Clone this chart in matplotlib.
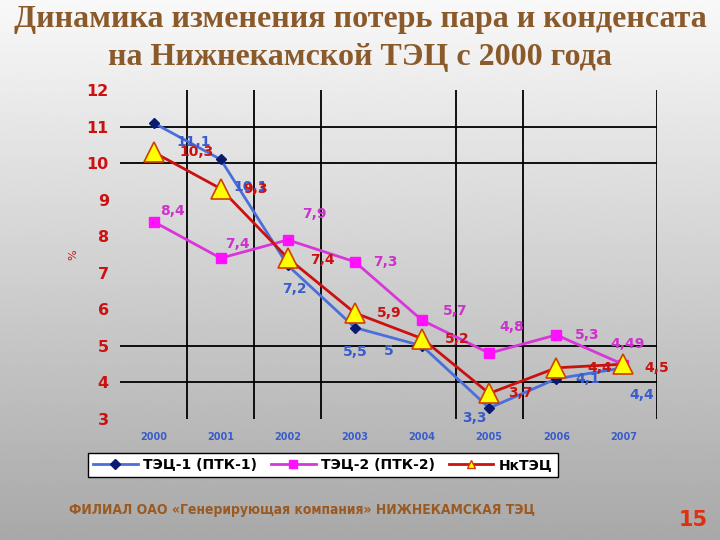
import numpy as np
import matplotlib
matplotlib.use("Agg")
import matplotlib.pyplot as plt
from matplotlib.lines import Line2D

# Data
years = ["2000", "2001", "2002", "2003", "2004", "2005", "2006", "2007"]
tec1 = [11.1, 10.1, 7.2, 5.5, 5.0, 3.3, 4.1, 4.4]
tec2 = [8.4, 7.4, 7.9, 7.3, 5.7, 4.8, 5.3, 4.49]
nktec = [10.3, 9.3, 7.4, 5.9, 5.2, 3.7, 4.4, 4.5]
tec1_labels = ["11,1", "10,1", "7,2", "5,5", "5", "3,3", "4,1", "4,4"]
tec2_labels = ["8,4", "7,4", "7,9", "7,3", "5,7", "4,8", "5,3", "4,49"]
nktec_labels = ["10,3", "9,3", "7,4", "5,9", "5,2", "3,7", "4,4", "4,5"]

# label offsets in pixels (placed by hand on the original slide)
tec1_off = [(40, -19), (30, -28), (7, -24), (0, -24), (-33, -5), (-15, -10), (31, 0), (18, -27)]
tec2_off = [(19, 11), (17, 14), (27, 26), (30, 0), (33, 9), (23, 26), (31, 0), (4, 21)]
nktec_off = [(43, 0), (35, 0), (35, -2), (34, 0), (35, 0), (31, 0), (43, 0), (33, -4)]

blue, magenta, red = "#4a6fdc", "#d936d9", "#cc1010"
lbl_blue, lbl_mag, lbl_red = "#3a5ccc", "#cc33cc", "#cc1111"

fig = plt.figure(figsize=(7.2, 5.4), dpi=100)

# gradient background
bg = fig.add_axes([0, 0, 1, 1], zorder=-10)
grad = np.linspace(0.975, 0.66, 256).reshape(-1, 1)
bg.imshow(grad, aspect="auto", cmap="gray", vmin=0, vmax=1, extent=[0, 1, 0, 1])
bg.axis("off")

ax = fig.add_axes([120 / 720, 1 - 419 / 540, 537 / 720, 329 / 540])
ax.set_facecolor("none")
x = np.arange(len(years))

for v in [0.5, 1.5, 2.5, 4.5, 5.5, 7.5]:
    ax.axvline(v, color="black", lw=1.3, zorder=1)
for h in [4, 5, 10, 11]:
    ax.axhline(h, color="black", lw=1.3, zorder=1)

ax.plot(x, tec1, color=blue, lw=2, marker="D", markersize=5.5,
        markerfacecolor="#0a1a70", markeredgecolor="#0a1a70", zorder=3)
ax.plot(x, tec2, color=magenta, lw=2, marker="s", markersize=7,
        markerfacecolor="#ff10ff", markeredgecolor="#ff10ff", zorder=3)
ax.plot(x, nktec, color=red, lw=2, marker="^", markersize=15,
        markerfacecolor="#ffff00", markeredgecolor="#d04000", markeredgewidth=1.2, zorder=4)

for vals, labs, offs, c, z in [(tec1, tec1_labels, tec1_off, lbl_blue, 5),
                               (tec2, tec2_labels, tec2_off, lbl_mag, 5),
                               (nktec, nktec_labels, nktec_off, lbl_red, 6)]:
    for xi, v, lab, (dx, dy) in zip(x, vals, labs, offs):
        ax.annotate(lab, (xi, v), xytext=(dx, dy), textcoords="offset pixels",
                    ha="center", va="center", fontsize=10, fontweight="bold",
                    color=c, zorder=z)

ax.set_xlim(-0.5, 7.5)
ax.set_ylim(3, 12)
ax.set_xticks(x)
ax.set_xticklabels(years, fontsize=7, fontweight="bold", color="#3a5ccc")
ax.set_yticks(range(3, 13))
ax.set_yticklabels([str(i) for i in range(3, 13)], fontsize=11.5,
                   fontweight="bold", color="#cc1111")
ax.tick_params(axis="x", length=0, pad=9)
ax.tick_params(axis="y", length=0, pad=8)
for s in ax.spines.values():
    s.set_visible(False)

fig.text(73 / 720, 1 - 255 / 540, "%", color="#cc1111", fontsize=8,
         ha="center", va="center", rotation=90)

handles = [
    Line2D([], [], color=blue, lw=2, marker="D", markersize=5,
           markerfacecolor="#0a1a70", markeredgecolor="#0a1a70"),
    Line2D([], [], color=magenta, lw=2, marker="s", markersize=6,
           markerfacecolor="#ff10ff", markeredgecolor="#ff10ff"),
    Line2D([], [], color=red, lw=2, marker="^", markersize=6,
           markerfacecolor="#ffff00", markeredgecolor="#d04000"),
]
leg = fig.legend(handles, ["ТЭЦ-1 (ПТК-1)", "ТЭЦ-2 (ПТК-2)", "НкТЭЦ"],
                 loc="center", bbox_to_anchor=(323 / 720, 1 - 465 / 540), ncol=3,
                 fancybox=False, framealpha=1, edgecolor="black",
                 prop={"weight": "bold", "size": 10}, handlelength=3.2,
                 columnspacing=1.0, handletextpad=0.4, borderpad=0.35)
leg.get_frame().set_linewidth(1.0)

fig.text(0.5, 1 - 20 / 540, "Динамика изменения потерь пара и конденсата",
         family="Liberation Serif", fontweight="bold", fontsize=23,
         color="#8b5a2b", ha="center", va="center")
fig.text(0.5, 1 - 58 / 540, "на Нижнекамской ТЭЦ с 2000 года",
         family="Liberation Serif", fontweight="bold", fontsize=23,
         color="#8b5a2b", ha="center", va="center")

fig.text(302 / 720, 1 - 510 / 540,
         "ФИЛИАЛ ОАО «Генерирующая компания» НИЖНЕКАМСКАЯ ТЭЦ",
         family="DejaVu Sans", fontstretch="condensed", fontweight="bold",
         fontsize=10, color="#9a5a22", ha="center", va="center")
fig.text(693 / 720, 1 - 520 / 540, "15", fontweight="bold", fontsize=15,
         color="#e03010", ha="center", va="center")

fig.savefig("out.png", dpi=100)
